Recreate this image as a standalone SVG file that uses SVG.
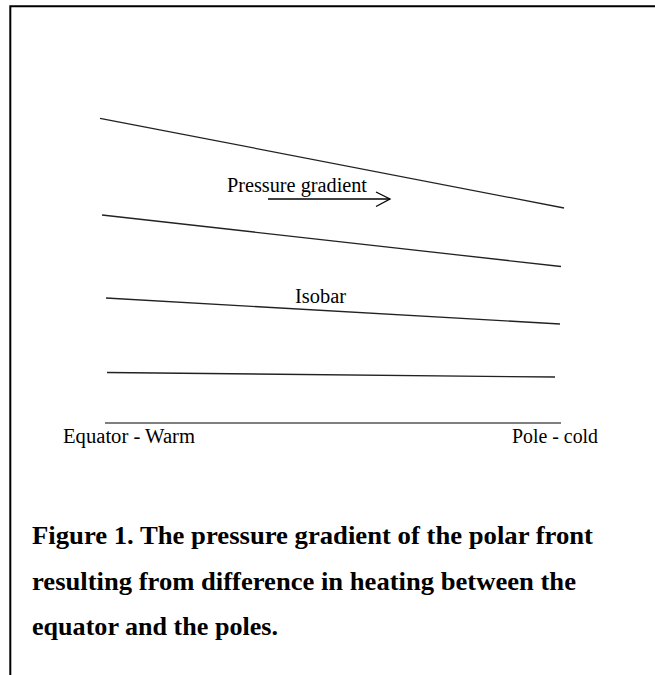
<svg xmlns="http://www.w3.org/2000/svg" width="655" height="675" viewBox="0 0 655 675">
<style>
.iso{stroke:#222;stroke-width:1.3;fill:none}
.lbl{font-family:"Liberation Serif","Times New Roman",serif;font-size:20px;fill:#000}
.cap{font-family:"Liberation Serif","Times New Roman",serif;font-size:25px;font-weight:bold;fill:#000}
</style>
<rect width="655" height="675" fill="#fff"/>
<g id="frame" stroke="#000" stroke-width="2" fill="none">
<path d="M10.3 675 V6.3 H655"/>
</g>
<g id="connectors">
<line class="iso" x1="100" y1="118.3" x2="564" y2="208"/>
<line class="iso" x1="102" y1="215" x2="561" y2="266.5"/>
<line class="iso" x1="106" y1="298" x2="560" y2="324"/>
<line class="iso" x1="107" y1="372.5" x2="555" y2="377"/>
<line class="iso" x1="105" y1="423" x2="561" y2="423" style="stroke:#555;stroke-width:1.5"/>
<g id="arrow" class="iso" style="stroke:#000">
<line x1="268" y1="199" x2="390" y2="199"/>
<polyline points="376,192 390,199 376,206.5"/>
</g>
</g>
<g id="label-pressure"><text class="lbl" x="227" y="192" textLength="140" lengthAdjust="spacingAndGlyphs">Pressure gradient</text></g>
<g id="label-isobar"><text class="lbl" x="295" y="303" textLength="51" lengthAdjust="spacingAndGlyphs">Isobar</text></g>
<g id="label-equator"><text class="lbl" x="63" y="443" textLength="132" lengthAdjust="spacingAndGlyphs">Equator - Warm</text></g>
<g id="label-pole"><text class="lbl" x="512" y="443" textLength="86" lengthAdjust="spacingAndGlyphs">Pole - cold</text></g>
<g id="caption">
<text class="cap" x="32" y="544" textLength="561" lengthAdjust="spacingAndGlyphs">Figure 1. The pressure gradient of the polar front</text>
<text class="cap" x="32" y="590" textLength="544" lengthAdjust="spacingAndGlyphs">resulting from difference in heating between the</text>
<text class="cap" x="32" y="635" textLength="246" lengthAdjust="spacingAndGlyphs">equator and the poles.</text>
</g>
</svg>
